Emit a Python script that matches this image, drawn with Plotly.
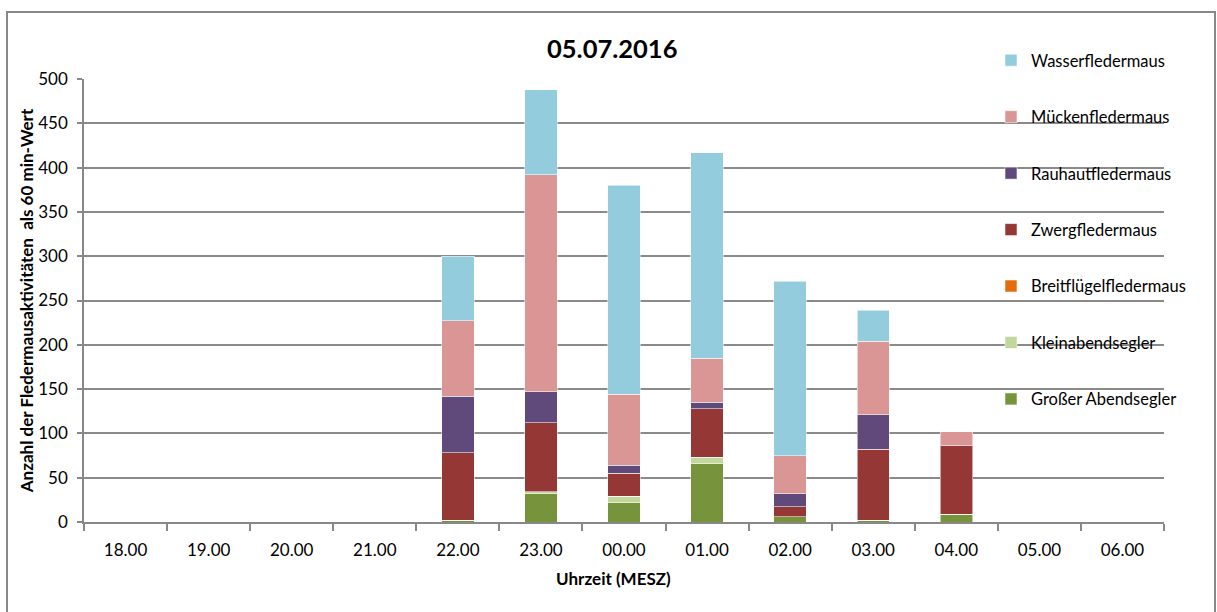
import plotly.graph_objects as go

# Hourly bat activity counts (60-minute values), 05.07.2016
hours = ["18.00", "19.00", "20.00", "21.00", "22.00", "23.00", "00.00",
         "01.00", "02.00", "03.00", "04.00", "05.00", "06.00"]

grosser_abendsegler = [0, 0, 0, 0, 2, 32, 22, 66, 6, 2, 9, 0, 0]
kleinabendsegler    = [0, 0, 0, 0, 0, 2, 7, 7, 0, 0, 0, 0, 0]
breitfluegel        = [0, 0, 0, 0, 0, 0, 0, 0, 0, 0, 0, 0, 0]
zwerg               = [0, 0, 0, 0, 76, 78, 26, 55, 11, 80, 77, 0, 0]
rauhaut             = [0, 0, 0, 0, 64, 35, 9, 7, 15, 39, 0, 0, 0]
muecken             = [0, 0, 0, 0, 85, 245, 80, 50, 43, 83, 16, 0, 0]
wasser              = [0, 0, 0, 0, 73, 96, 236, 232, 197, 35, 0, 0, 0]

# stacked bottom -> top
series = [
    ("Großer Abendsegler", grosser_abendsegler, "#77933C"),
    ("Kleinabendsegler", kleinabendsegler, "#C3D69B"),
    ("Breitflügelfledermaus", breitfluegel, "#E46C0A"),
    ("Zwergfledermaus", zwerg, "#953735"),
    ("Rauhautfledermaus", rauhaut, "#604A7B"),
    ("Mückenfledermaus", muecken, "#D99694"),
    ("Wasserfledermaus", wasser, "#93CDDD"),
]

FONT = "Lato"

fig = go.Figure()
n = len(series)
for i, (name, vals, col) in enumerate(series):
    fig.add_trace(go.Bar(
        x=hours, y=vals, name=name, legendgroup=name,
        legendrank=n - i,  # top of the stack listed first
        marker=dict(color=col, line=dict(color="rgba(255,255,255,0.55)", width=1)),
    ))

W, H = 1217, 612
L, R, T, B = 84, 53, 79, 90
pw, ph = W - L - R, H - T - B

def px_x(p):
    return (p - L) / pw

def px_y(p):
    return (H - B - p) / ph

fig.update_layout(
    width=W, height=H,
    margin=dict(l=L, r=R, t=T, b=B),
    paper_bgcolor="white", plot_bgcolor="white",
    barmode="stack", bargap=0.61,
    font=dict(family=FONT, size=17, color="#000000"),
    showlegend=True,
    legend=dict(
        traceorder="grouped",
        tracegroupgap=32,
        x=px_x(991), xanchor="left",
        y=px_y(43), yanchor="top",
        maxheight=1,
        font=dict(family=FONT, size=16.5, color="#000000"),
        bgcolor="rgba(0,0,0,0)",
    ),
    xaxis=dict(
        showline=True, linecolor="#888888", linewidth=1.5,
        ticks="outside", tickson="boundaries", ticklen=7, tickcolor="#888888",
        tickwidth=1.5, showgrid=False,
        ticklabelstandoff=12,
        tickfont=dict(family=FONT, size=17),
    ),
    yaxis=dict(
        range=[0, 500], dtick=50,
        showline=True, linecolor="#888888", linewidth=1.5,
        ticks="outside", ticklen=5, tickcolor="#888888", tickwidth=1.5,
        showgrid=True, gridcolor="#8a8a8a", gridwidth=1.5,
        zeroline=False,
        ticklabelstandoff=6,
        tickfont=dict(family=FONT, size=17),
        title=dict(text="<b>Anzahl der Fledermausaktivitäten  als 60 min-Wert</b>",
                   font=dict(family=FONT, size=17), standoff=0),
    ),
    annotations=[
        dict(text="<b>05.07.2016</b>", xref="paper", yref="paper",
             x=px_x(612), y=px_y(48), xanchor="center", yanchor="middle",
             showarrow=False, font=dict(family=FONT, size=25.5)),
        dict(text="<b>Uhrzeit (MESZ)</b>", xref="paper", yref="paper",
             x=px_x(613), y=px_y(578), xanchor="center", yanchor="middle",
             showarrow=False, font=dict(family=FONT, size=17)),
    ],
    shapes=[
        dict(type="rect", xref="paper", yref="paper",
             x0=px_x(7), x1=px_x(1215), y0=px_y(618), y1=px_y(12),
             line=dict(color="#888888", width=2), fillcolor="rgba(0,0,0,0)",
             layer="below"),
    ],
)

fig.write_html("out.html")
